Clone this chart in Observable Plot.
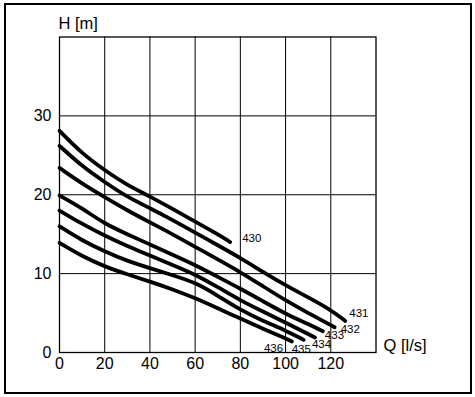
<!DOCTYPE html>
<html>
<head>
<meta charset="utf-8">
<script src="https://cdn.jsdelivr.net/npm/d3@7"></script>
<script src="https://cdn.jsdelivr.net/npm/@observablehq/plot@0.6"></script>
<style>
  html, body { margin: 0; padding: 0; background: #fff; }
  #wrap { position: relative; width: 475px; height: 397px; overflow: hidden; }
  #border { position: absolute; left: 4px; top: 3px; width: 468px; height: 391px; box-sizing: border-box; border: 2px solid #000; pointer-events: none; }
  #chart { position: absolute; left: 0; top: 0; }
</style>
</head>
<body>
<div id="wrap"><div id="chart"></div><div id="border"></div></div>
<script>
// Pump curves: H [m] versus Q [l/s]
const pumps = ["430", "431", "432", "433", "434", "435", "436"];
const q430 = [0, 10, 20, 30, 40, 50, 60, 70, 75.5];
const h430 = [28.1, 25.2, 23.1, 21.2, 19.8, 18.2, 16.6, 15.0, 14.0];
const q431 = [0, 10, 20, 30, 40, 50, 60, 70, 80, 90, 100, 110, 120, 126.4];
const h431 = [26.2, 23.6, 21.6, 19.7, 18.3, 16.8, 15.2, 13.6, 12.0, 10.2, 8.5, 7.0, 5.4, 4.0];
const q432 = [0, 10, 20, 30, 40, 50, 60, 70, 80, 90, 100, 110, 121.7];
const h432 = [23.4, 21.4, 19.7, 18.0, 16.5, 15.0, 13.4, 11.8, 10.2, 8.4, 6.6, 5.0, 3.2];
const q433 = [0, 10, 20, 30, 40, 50, 60, 70, 80, 90, 100, 110, 116.5];
const h433 = [19.9, 18.3, 16.3, 15.0, 13.7, 12.4, 11.1, 9.6, 8.1, 6.5, 4.9, 3.6, 2.7];
const q434 = [0, 10, 20, 30, 40, 50, 60, 70, 80, 90, 100, 113];
const h434 = [18.0, 16.3, 14.8, 13.5, 12.3, 11.1, 9.9, 8.3, 6.6, 5.2, 3.8, 1.9];
const q435 = [0, 10, 20, 30, 40, 50, 60, 70, 80, 90, 100, 108];
const h435 = [16.0, 14.2, 12.8, 11.6, 10.7, 9.8, 8.9, 7.2, 5.4, 4.0, 2.8, 1.6];
const q436 = [0, 10, 20, 30, 40, 50, 60, 70, 80, 90, 100, 102.8];
const h436 = [13.9, 12.2, 10.9, 9.9, 9.0, 8.0, 6.9, 5.6, 4.3, 3.0, 1.8, 1.4];
const xTicks = [0, 20, 40, 60, 80, 100, 120];
const yTicks = [0, 10, 20, 30];
const xGrid = [20, 40, 60, 80, 100, 120];
const yGrid = [10, 20, 30];

const qs = [q430, q431, q432, q433, q434, q435, q436];
const hs = [h430, h431, h432, h433, h434, h435, h436];
const rows = [];
pumps.forEach((p, i) => qs[i].forEach((q, j) => rows.push({pump: p, q, h: hs[i][j]})));
const ends = pumps.map((p, i) => ({pump: p, q: qs[i][qs[i].length - 1], h: hs[i][hs[i].length - 1]}));

// label offsets (px) from each curve's end point
const labelOffset = {
  "430": [12, -4], "431": [4, -8], "432": [6, 2], "433": [2, 4],
  "434": [-3, 7], "435": [-12, 9], "436": [-28, 7]
};

const font = "'Liberation Sans', Arial, sans-serif";
const chart = Plot.plot({
  width: 475,
  height: 397,
  marginLeft: 59,
  marginRight: 99.5,
  marginTop: 36.5,
  marginBottom: 45,
  style: {fontFamily: font, fontSize: "16px", color: "#000", background: "transparent"},
  x: {domain: [0, 140]},
  y: {domain: [0, 40]},
  marks: [
    Plot.ruleX(xGrid, {stroke: "#000", strokeWidth: 1}),
    Plot.ruleY(yGrid, {stroke: "#000", strokeWidth: 1}),
    Plot.frame({stroke: "#000", strokeWidth: 1.3}),
    Plot.axisX({ticks: xTicks, tickSize: 0, tickPadding: 5, fontSize: 16, label: null}),
    Plot.axisY({ticks: yTicks, tickSize: 0, tickPadding: 8, fontSize: 16, label: null}),
    Plot.line(rows, {x: "q", y: "h", z: "pump", stroke: "#000", strokeWidth: 3.8, curve: "basis"}),
    ...pumps.map(p => Plot.text(ends.filter(d => d.pump === p), {
      x: "q", y: "h", text: "pump", textAnchor: "start", fontSize: 11.5,
      dx: labelOffset[p][0], dy: labelOffset[p][1], fill: "#000"
    })),
    Plot.text(["H [m]"], {frameAnchor: "top-left", textAnchor: "start", lineAnchor: "bottom", dx: -1, dy: -8, fontSize: 16.5, fill: "#000"}),
    Plot.text(["Q [l/s]"], {frameAnchor: "bottom-right", textAnchor: "start", lineAnchor: "bottom", dx: 7.5, dy: -1.5, fontSize: 16.5, fill: "#000"})
  ]
});
document.getElementById("chart").appendChild(chart);
</script>
</body>
</html>
